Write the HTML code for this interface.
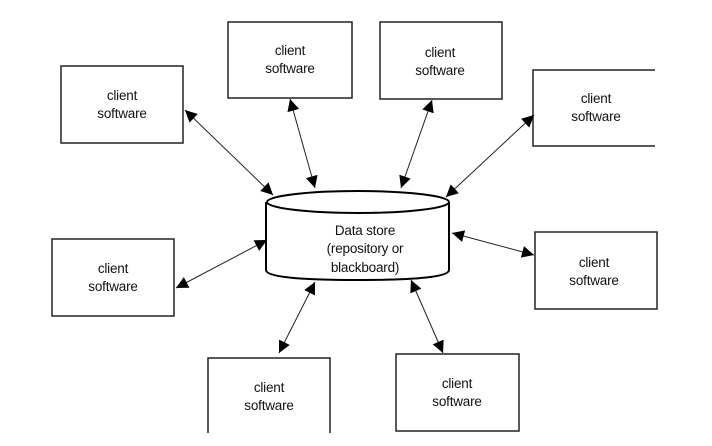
<!DOCTYPE html>
<html><head><style>
html,body{margin:0;padding:0;background:#fff;}
svg{display:block;}
text{font-family:"Liberation Sans",sans-serif;font-size:13.5px;fill:#111;text-anchor:middle;letter-spacing:-0.2px;}
</style></head><body>
<svg width="712" height="446" viewBox="0 0 712 446">
<defs>
<marker id="a" viewBox="0 0 10 10" refX="10" refY="5" markerWidth="16" markerHeight="12" markerUnits="userSpaceOnUse" orient="auto-start-reverse">
<path d="M0,0 L10,5 L0,10 z" fill="#000"/>
</marker>
</defs>
<g fill="none" stroke="#222" stroke-width="1.5">
<rect x="61" y="66" width="122" height="77"/>
<rect x="228" y="22" width="124" height="76"/>
<rect x="380" y="22" width="122" height="77"/>
<path d="M655,70 H533 V146 H655"/>
<rect x="52" y="239" width="122" height="77"/>
<rect x="535" y="232" width="122" height="77"/>
<path d="M208,433 V358 H330 V433"/>
<rect x="396" y="354" width="123" height="77"/>
</g>
<g stroke="#000" stroke-width="2" fill="#fff">
<path d="M266,202 V270 Q266,280 358,280 Q449,280 449,270 V202" />
<ellipse cx="358" cy="202" rx="91" ry="11"/>
</g>
<g stroke="#222" stroke-width="1" marker-start="url(#a)" marker-end="url(#a)">
<line x1="185" y1="110" x2="273" y2="195"/>
<line x1="290" y1="99" x2="315" y2="188"/>
<line x1="432" y1="100" x2="401" y2="188"/>
<line x1="534" y1="115" x2="446" y2="197"/>
<line x1="176" y1="288" x2="267" y2="240"/>
<line x1="452" y1="233" x2="534" y2="255"/>
<line x1="315" y1="282" x2="279" y2="353"/>
<line x1="411" y1="280" x2="443" y2="353"/>
</g>
<text x="122" y="100">client</text><text x="122" y="118">software</text>
<text x="290" y="55">client</text><text x="290" y="73">software</text>
<text x="440" y="57">client</text><text x="440" y="75">software</text>
<text x="596" y="103">client</text><text x="596" y="121">software</text>
<text x="113" y="273">client</text><text x="113" y="291">software</text>
<text x="594" y="267">client</text><text x="594" y="285">software</text>
<text x="269" y="392">client</text><text x="269" y="410">software</text>
<text x="457" y="388">client</text><text x="457" y="406">software</text>
<text x="365" y="235">Data store</text>
<text x="365" y="253">(repository or</text>
<text x="365" y="272">blackboard)</text>
</svg>
</body></html>
